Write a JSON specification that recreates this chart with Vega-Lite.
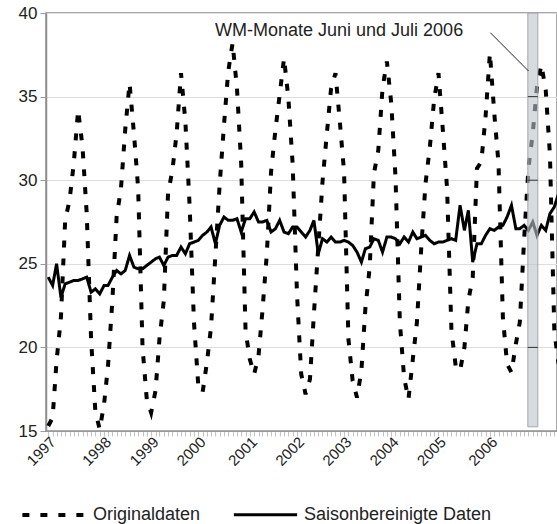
{
  "$schema": "https://vega.github.io/schema/vega-lite/v6.json",
  "width": 511,
  "height": 418,
  "autosize": {"type": "none"},
  "padding": {"left": 46, "top": 13, "right": 0, "bottom": 93},
  "config": {"font": "Liberation Sans", "view": {"stroke": "#8f8f8f", "strokeWidth": 1.5}},
  "datasets": {
    "series": [
      {"date":"1997-01-01","Originaldaten":15.3,"Saisonbereinigte Daten":24.2},
      {"date":"1997-02-01","Originaldaten":15.8,"Saisonbereinigte Daten":23.7},
      {"date":"1997-03-01","Originaldaten":19.2,"Saisonbereinigte Daten":25.0},
      {"date":"1997-04-01","Originaldaten":21.8,"Saisonbereinigte Daten":23.0},
      {"date":"1997-05-01","Originaldaten":27.6,"Saisonbereinigte Daten":23.8},
      {"date":"1997-06-01","Originaldaten":28.8,"Saisonbereinigte Daten":23.9},
      {"date":"1997-07-01","Originaldaten":31.0,"Saisonbereinigte Daten":24.0},
      {"date":"1997-08-01","Originaldaten":34.2,"Saisonbereinigte Daten":24.0},
      {"date":"1997-09-01","Originaldaten":32.0,"Saisonbereinigte Daten":24.1},
      {"date":"1997-10-01","Originaldaten":28.0,"Saisonbereinigte Daten":24.2},
      {"date":"1997-11-01","Originaldaten":20.5,"Saisonbereinigte Daten":23.3},
      {"date":"1997-12-01","Originaldaten":16.2,"Saisonbereinigte Daten":23.5},
      {"date":"1998-01-01","Originaldaten":15.1,"Saisonbereinigte Daten":23.2},
      {"date":"1998-02-01","Originaldaten":16.6,"Saisonbereinigte Daten":23.7},
      {"date":"1998-03-01","Originaldaten":18.9,"Saisonbereinigte Daten":23.7},
      {"date":"1998-04-01","Originaldaten":22.8,"Saisonbereinigte Daten":24.2},
      {"date":"1998-05-01","Originaldaten":27.8,"Saisonbereinigte Daten":24.6},
      {"date":"1998-06-01","Originaldaten":29.5,"Saisonbereinigte Daten":24.4},
      {"date":"1998-07-01","Originaldaten":33.0,"Saisonbereinigte Daten":24.6},
      {"date":"1998-08-01","Originaldaten":35.8,"Saisonbereinigte Daten":25.5},
      {"date":"1998-09-01","Originaldaten":32.8,"Saisonbereinigte Daten":24.8},
      {"date":"1998-10-01","Originaldaten":29.5,"Saisonbereinigte Daten":24.7},
      {"date":"1998-11-01","Originaldaten":20.0,"Saisonbereinigte Daten":24.7},
      {"date":"1998-12-01","Originaldaten":16.9,"Saisonbereinigte Daten":24.9},
      {"date":"1999-01-01","Originaldaten":16.1,"Saisonbereinigte Daten":25.1},
      {"date":"1999-02-01","Originaldaten":17.4,"Saisonbereinigte Daten":25.3},
      {"date":"1999-03-01","Originaldaten":20.5,"Saisonbereinigte Daten":25.4},
      {"date":"1999-04-01","Originaldaten":22.8,"Saisonbereinigte Daten":24.9},
      {"date":"1999-05-01","Originaldaten":29.2,"Saisonbereinigte Daten":25.4},
      {"date":"1999-06-01","Originaldaten":30.6,"Saisonbereinigte Daten":25.5},
      {"date":"1999-07-01","Originaldaten":32.8,"Saisonbereinigte Daten":25.5},
      {"date":"1999-08-01","Originaldaten":36.4,"Saisonbereinigte Daten":26.0},
      {"date":"1999-09-01","Originaldaten":33.5,"Saisonbereinigte Daten":25.6},
      {"date":"1999-10-01","Originaldaten":28.5,"Saisonbereinigte Daten":26.2},
      {"date":"1999-11-01","Originaldaten":21.5,"Saisonbereinigte Daten":26.3},
      {"date":"1999-12-01","Originaldaten":17.8,"Saisonbereinigte Daten":26.4},
      {"date":"2000-01-01","Originaldaten":17.3,"Saisonbereinigte Daten":26.7},
      {"date":"2000-02-01","Originaldaten":19.1,"Saisonbereinigte Daten":26.9},
      {"date":"2000-03-01","Originaldaten":21.2,"Saisonbereinigte Daten":27.2},
      {"date":"2000-04-01","Originaldaten":25.5,"Saisonbereinigte Daten":26.2},
      {"date":"2000-05-01","Originaldaten":29.7,"Saisonbereinigte Daten":27.3},
      {"date":"2000-06-01","Originaldaten":33.3,"Saisonbereinigte Daten":27.8},
      {"date":"2000-07-01","Originaldaten":36.5,"Saisonbereinigte Daten":27.6},
      {"date":"2000-08-01","Originaldaten":38.2,"Saisonbereinigte Daten":27.6},
      {"date":"2000-09-01","Originaldaten":35.5,"Saisonbereinigte Daten":27.7},
      {"date":"2000-10-01","Originaldaten":31.0,"Saisonbereinigte Daten":26.9},
      {"date":"2000-11-01","Originaldaten":21.0,"Saisonbereinigte Daten":27.7},
      {"date":"2000-12-01","Originaldaten":19.3,"Saisonbereinigte Daten":27.7},
      {"date":"2001-01-01","Originaldaten":18.4,"Saisonbereinigte Daten":28.1},
      {"date":"2001-02-01","Originaldaten":19.5,"Saisonbereinigte Daten":27.5},
      {"date":"2001-03-01","Originaldaten":22.2,"Saisonbereinigte Daten":27.5},
      {"date":"2001-04-01","Originaldaten":25.6,"Saisonbereinigte Daten":27.6},
      {"date":"2001-05-01","Originaldaten":30.5,"Saisonbereinigte Daten":26.9},
      {"date":"2001-06-01","Originaldaten":33.0,"Saisonbereinigte Daten":27.1},
      {"date":"2001-07-01","Originaldaten":35.1,"Saisonbereinigte Daten":27.6},
      {"date":"2001-08-01","Originaldaten":37.3,"Saisonbereinigte Daten":26.9},
      {"date":"2001-09-01","Originaldaten":34.9,"Saisonbereinigte Daten":26.8},
      {"date":"2001-10-01","Originaldaten":31.0,"Saisonbereinigte Daten":27.2},
      {"date":"2001-11-01","Originaldaten":23.2,"Saisonbereinigte Daten":27.2},
      {"date":"2001-12-01","Originaldaten":18.4,"Saisonbereinigte Daten":26.9},
      {"date":"2002-01-01","Originaldaten":17.2,"Saisonbereinigte Daten":26.6},
      {"date":"2002-02-01","Originaldaten":18.1,"Saisonbereinigte Daten":27.0},
      {"date":"2002-03-01","Originaldaten":22.0,"Saisonbereinigte Daten":27.6},
      {"date":"2002-04-01","Originaldaten":26.0,"Saisonbereinigte Daten":25.6},
      {"date":"2002-05-01","Originaldaten":29.9,"Saisonbereinigte Daten":26.5},
      {"date":"2002-06-01","Originaldaten":32.8,"Saisonbereinigte Daten":26.3},
      {"date":"2002-07-01","Originaldaten":35.5,"Saisonbereinigte Daten":26.6},
      {"date":"2002-08-01","Originaldaten":36.4,"Saisonbereinigte Daten":26.3},
      {"date":"2002-09-01","Originaldaten":33.5,"Saisonbereinigte Daten":26.3},
      {"date":"2002-10-01","Originaldaten":30.5,"Saisonbereinigte Daten":26.4},
      {"date":"2002-11-01","Originaldaten":20.5,"Saisonbereinigte Daten":26.3},
      {"date":"2002-12-01","Originaldaten":18.0,"Saisonbereinigte Daten":26.1},
      {"date":"2003-01-01","Originaldaten":17.0,"Saisonbereinigte Daten":25.7},
      {"date":"2003-02-01","Originaldaten":18.6,"Saisonbereinigte Daten":25.1},
      {"date":"2003-03-01","Originaldaten":22.3,"Saisonbereinigte Daten":25.9},
      {"date":"2003-04-01","Originaldaten":24.8,"Saisonbereinigte Daten":26.0},
      {"date":"2003-05-01","Originaldaten":30.4,"Saisonbereinigte Daten":26.5},
      {"date":"2003-06-01","Originaldaten":31.8,"Saisonbereinigte Daten":26.4},
      {"date":"2003-07-01","Originaldaten":35.5,"Saisonbereinigte Daten":25.7},
      {"date":"2003-08-01","Originaldaten":37.1,"Saisonbereinigte Daten":26.6},
      {"date":"2003-09-01","Originaldaten":34.6,"Saisonbereinigte Daten":26.6},
      {"date":"2003-10-01","Originaldaten":30.2,"Saisonbereinigte Daten":26.5},
      {"date":"2003-11-01","Originaldaten":21.5,"Saisonbereinigte Daten":26.2},
      {"date":"2003-12-01","Originaldaten":18.2,"Saisonbereinigte Daten":26.6},
      {"date":"2004-01-01","Originaldaten":16.9,"Saisonbereinigte Daten":26.3},
      {"date":"2004-02-01","Originaldaten":19.3,"Saisonbereinigte Daten":26.9},
      {"date":"2004-03-01","Originaldaten":21.5,"Saisonbereinigte Daten":26.5},
      {"date":"2004-04-01","Originaldaten":26.0,"Saisonbereinigte Daten":26.6},
      {"date":"2004-05-01","Originaldaten":29.8,"Saisonbereinigte Daten":26.7},
      {"date":"2004-06-01","Originaldaten":32.0,"Saisonbereinigte Daten":26.4},
      {"date":"2004-07-01","Originaldaten":34.8,"Saisonbereinigte Daten":26.2},
      {"date":"2004-08-01","Originaldaten":36.4,"Saisonbereinigte Daten":26.3},
      {"date":"2004-09-01","Originaldaten":33.0,"Saisonbereinigte Daten":26.3},
      {"date":"2004-10-01","Originaldaten":29.5,"Saisonbereinigte Daten":26.4},
      {"date":"2004-11-01","Originaldaten":21.0,"Saisonbereinigte Daten":26.5},
      {"date":"2004-12-01","Originaldaten":18.9,"Saisonbereinigte Daten":26.4},
      {"date":"2005-01-01","Originaldaten":18.6,"Saisonbereinigte Daten":28.5},
      {"date":"2005-02-01","Originaldaten":20.0,"Saisonbereinigte Daten":27.0},
      {"date":"2005-03-01","Originaldaten":22.8,"Saisonbereinigte Daten":28.2},
      {"date":"2005-04-01","Originaldaten":24.2,"Saisonbereinigte Daten":25.1},
      {"date":"2005-05-01","Originaldaten":30.7,"Saisonbereinigte Daten":26.2},
      {"date":"2005-06-01","Originaldaten":31.1,"Saisonbereinigte Daten":26.2},
      {"date":"2005-07-01","Originaldaten":33.8,"Saisonbereinigte Daten":26.7},
      {"date":"2005-08-01","Originaldaten":37.6,"Saisonbereinigte Daten":27.1},
      {"date":"2005-09-01","Originaldaten":34.0,"Saisonbereinigte Daten":27.0},
      {"date":"2005-10-01","Originaldaten":31.0,"Saisonbereinigte Daten":27.2},
      {"date":"2005-11-01","Originaldaten":21.8,"Saisonbereinigte Daten":27.3},
      {"date":"2005-12-01","Originaldaten":19.0,"Saisonbereinigte Daten":27.8},
      {"date":"2006-01-01","Originaldaten":18.5,"Saisonbereinigte Daten":28.5},
      {"date":"2006-02-01","Originaldaten":20.2,"Saisonbereinigte Daten":27.1},
      {"date":"2006-03-01","Originaldaten":21.5,"Saisonbereinigte Daten":27.1},
      {"date":"2006-04-01","Originaldaten":26.5,"Saisonbereinigte Daten":27.3},
      {"date":"2006-05-01","Originaldaten":30.7,"Saisonbereinigte Daten":27.0},
      {"date":"2006-06-01","Originaldaten":32.8,"Saisonbereinigte Daten":27.5},
      {"date":"2006-07-01","Originaldaten":35.6,"Saisonbereinigte Daten":26.7},
      {"date":"2006-08-01","Originaldaten":36.9,"Saisonbereinigte Daten":27.3},
      {"date":"2006-09-01","Originaldaten":35.4,"Saisonbereinigte Daten":27.0},
      {"date":"2006-10-01","Originaldaten":31.5,"Saisonbereinigte Daten":28.0},
      {"date":"2006-11-01","Originaldaten":21.0,"Saisonbereinigte Daten":28.4},
      {"date":"2006-12-01","Originaldaten":19.0,"Saisonbereinigte Daten":29.2}
    ]
  },
  "layer": [
    {
      "data": {"name": "series"},
      "transform": [{"fold": ["Originaldaten", "Saisonbereinigte Daten"], "as": ["reihe", "wert"]}],
      "mark": {"type": "line", "color": "black", "clip": true, "strokeCap": "butt"},
      "encoding": {
        "x": {
          "field": "date", "type": "temporal", "title": null,
          "scale": {"type": "utc", "domain": [{"year": 1996, "month": 12, "date": 16, "utc": true}, {"year": 2006, "month": 11, "date": 20, "utc": true}]},
          "axis": {
            "orient": "bottom",
            "tickCount": {"interval": "month", "step": 1},
            "labelExpr": "indexof(['1997-1','1998-2','1999-1','2000-0','2001-0','2001-11','2002-10','2003-9','2004-8','2005-8'], utcyear(datum.value) + '-' + utcmonth(datum.value)) >= 0 ? '' + (utcyear(datum.value) + (utcmonth(datum.value) >= 8 ? 1 : 0)) : ''",
            "labelAngle": -45, "labelAlign": "right", "labelBaseline": "middle",
            "labelOverlap": false, "labelFlush": false, "labelBound": false,
            "labelFontSize": 15, "labelColor": "#222222", "labelPadding": 3,
            "tickSize": 5, "tickColor": "#c4c4c4", "tickWidth": 1,
            "domainColor": "#9a9a9a", "domainWidth": 1.2,
            "grid": false, "title": null
          }
        },
        "y": {
          "field": "wert", "type": "quantitative", "title": null,
          "scale": {"domain": [15, 40], "nice": false, "zero": false},
          "axis": {
            "values": [15, 20, 25, 30, 35, 40],
            "grid": true, "gridColor": "#dddddd",
            "tickSize": 6, "tickColor": "#9a9a9a",
            "domainColor": "#8f8f8f", "domainWidth": 1.5,
            "labelFontSize": 17, "labelColor": "#222222", "labelPadding": 3,
            "labelBound": false, "labelFlush": false, "title": null
          }
        },
        "strokeDash": {
          "field": "reihe", "type": "nominal",
          "scale": {"domain": ["Originaldaten", "Saisonbereinigte Daten"], "range": [[7, 11], [1, 0]]},
          "legend": {
            "orient": "none", "legendX": -26, "legendY": 468, "direction": "horizontal",
            "title": null, "symbolType": "stroke", "symbolSize": 4000,
            "symbolStrokeWidth": 3.8, "symbolStrokeColor": "black",
            "labelFontSize": 18, "labelColor": "#222222", "labelOffset": 5,
            "columnPadding": 26, "labelLimit": 400
          }
        },
        "strokeWidth": {
          "field": "reihe", "type": "nominal",
          "scale": {"domain": ["Originaldaten", "Saisonbereinigte Daten"], "range": [4, 3]},
          "legend": null
        }
      }
    },
    {
      "data": {"values": [{"s": "2006-04-27", "e": "2006-07-07", "lo": 15.25, "hi": 40}]},
      "mark": {"type": "rect", "color": "#bcc2c8", "fillOpacity": 0.6, "stroke": "#a2a8ae", "strokeWidth": 1},
      "encoding": {
        "x": {"field": "s", "type": "temporal", "scale": {"type": "utc"}, "title": null},
        "x2": {"field": "e"},
        "y": {"field": "lo", "type": "quantitative", "title": null},
        "y2": {"field": "hi"}
      }
    },
    {
      "data": {"values": [
        {"s": "2006-04-27", "e": "2006-07-07", "v": 20},
        {"s": "2006-04-27", "e": "2006-07-07", "v": 30},
        {"s": "2006-04-27", "e": "2006-07-07", "v": 35}
      ]},
      "mark": {"type": "rule", "color": "#333333", "strokeWidth": 1},
      "encoding": {
        "x": {"field": "s", "type": "temporal", "scale": {"type": "utc"}, "title": null},
        "x2": {"field": "e"},
        "y": {"field": "v", "type": "quantitative", "title": null}
      }
    },
    {
      "data": {"values": [{"d": "2005-01-23", "v": 38.92, "t": "WM-Monate Juni und Juli 2006"}]},
      "mark": {"type": "text", "align": "right", "baseline": "middle", "fontSize": 18, "color": "#222222"},
      "encoding": {
        "x": {"field": "d", "type": "temporal", "scale": {"type": "utc"}, "title": null},
        "y": {"field": "v", "type": "quantitative", "title": null},
        "text": {"field": "t"}
      }
    },
    {
      "data": {"values": [{"d1": "2005-08-04", "v1": 38.82, "d2": "2006-05-02", "v2": 36.53}]},
      "mark": {"type": "rule", "color": "#222222", "strokeWidth": 1},
      "encoding": {
        "x": {"field": "d1", "type": "temporal", "scale": {"type": "utc"}, "title": null},
        "y": {"field": "v1", "type": "quantitative", "title": null},
        "x2": {"field": "d2"},
        "y2": {"field": "v2"}
      }
    }
  ]
}
